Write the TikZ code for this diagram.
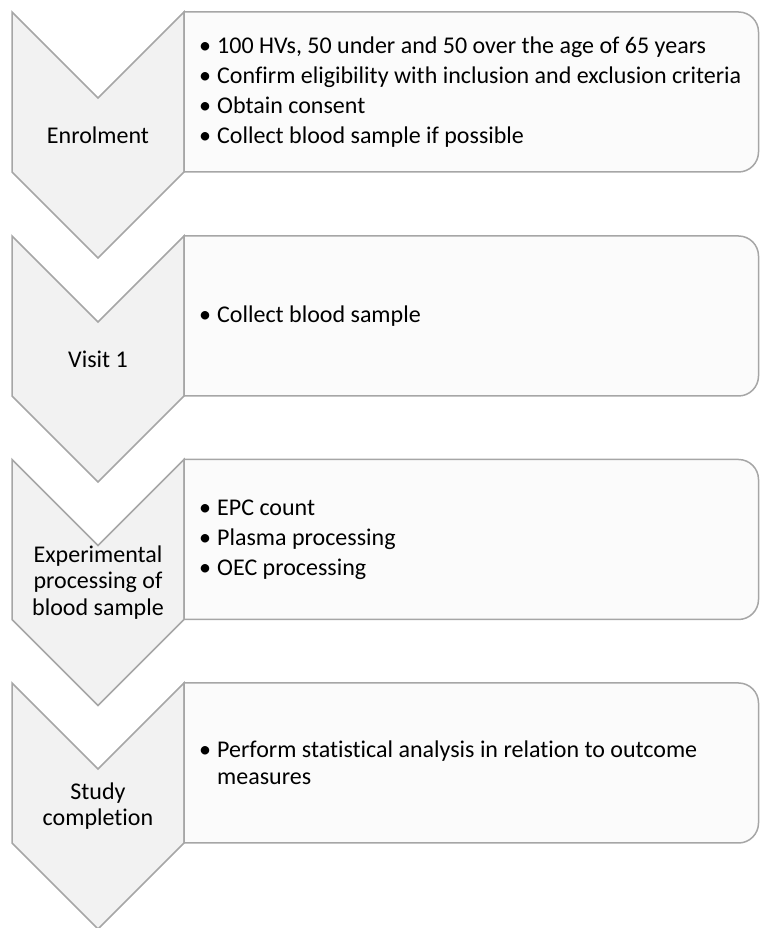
\documentclass[tikz,border=0pt]{standalone}
\usepackage{fontspec}
\setmainfont{Carlito}[Ligatures=NoCommon]
\definecolor{chevfill}{HTML}{F2F2F2}
\definecolor{panelfill}{HTML}{FBFBFB}
\definecolor{edgegray}{HTML}{A6A6A6}
\newcommand{\bl}{\makebox[18pt][l]{\textbullet}}
\begin{document}
\begin{tikzpicture}[
    chev/.style={draw=edgegray, fill=chevfill, line width=1.5pt, line join=miter},
    panel/.style={draw=edgegray, fill=panelfill, line width=1.5pt},
    stage/.style={font=\fontsize{24}{26.5}\selectfont, align=center},
    items/.style={font=\fontsize{24}{26.5}\selectfont, align=left, anchor=west, inner sep=0pt},
]
\useasboundingbox (0,0) rectangle (760pt,928pt);
\foreach \i/\y in {1/916, 2/692, 3/468.5, 4/245} {
  \draw[chev] (12pt,\y pt) -- (98pt,\y pt-86pt) -- (184pt,\y pt) -- (184pt,\y pt-160pt)
    -- (98pt,\y pt-246pt) -- (12pt,\y pt-160pt) -- cycle;
  \draw[panel] (184pt,\y pt) -- (738.5pt,\y pt) arc[start angle=90, end angle=0, radius=20pt]
    -- (758.5pt,\y pt-140pt) arc[start angle=0, end angle=-90, radius=20pt] -- (184pt,\y pt-160pt) -- cycle;
}
\foreach \i/\y/\stg in {1/916/Enrolment, 2/692/Visit 1, 3/468.5/{Experimental\\processing of\\blood sample}, 4/245/{Study\\completion}} {
  \node[stage] (stage\i) at (98pt,\y pt-123pt) {\stg};
}
\foreach \i/\y/\txt in {
    1/916/{\bl 100 HVs, 50 under and 50 over the age of 65 years\\[3.5pt]\bl Confirm eligibility with inclusion and exclusion criteria\\[3.5pt]\bl Obtain consent\\[3.5pt]\bl Collect blood sample if possible},
    2/692/{\bl Collect blood sample},
    3/468.5/{\bl EPC count\\[3.5pt]\bl Plasma processing\\[3.5pt]\bl OEC processing},
    4/245/{\bl Perform statistical analysis in relation to outcome\\\hspace*{18pt}measures}} {
  \node[items] (items\i) at (199pt,\y pt-80pt) {\txt};
}
\end{tikzpicture}
\end{document}
